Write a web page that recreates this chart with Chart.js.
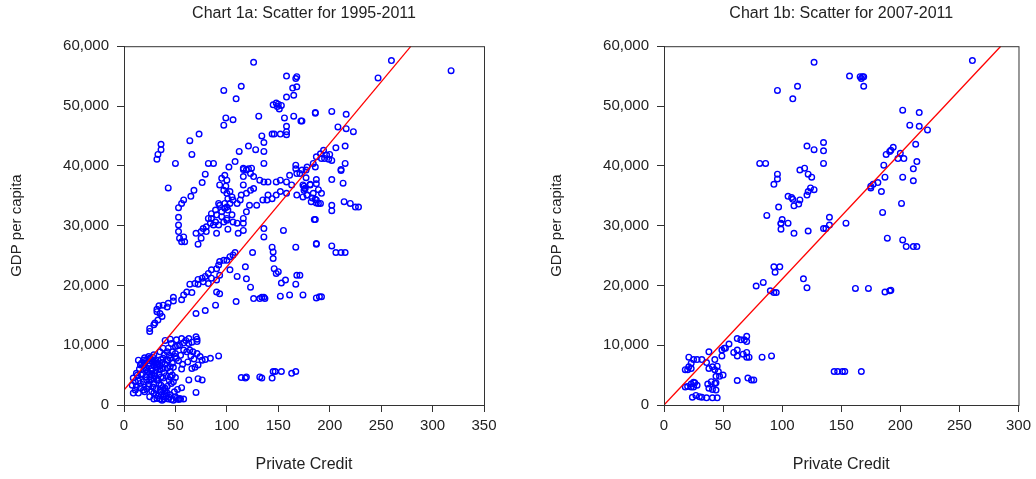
<!DOCTYPE html>
<html>
<head>
<meta charset="utf-8">
<script src="https://cdn.jsdelivr.net/npm/chart.js@4.4.0/dist/chart.umd.min.js"></script>
<style>
  body { margin: 0; background: #fff; }
  .box { position: absolute; top: 0; width: 518px; height: 479px; }
</style>
</head>
<body>
<div class="box" style="left:0"><canvas id="chart1a" width="518" height="479"></canvas></div>
<div class="box" style="left:518px"><canvas id="chart1b" width="518" height="479"></canvas></div>
<script>
// [private credit, GDP per capita]
const points1a = [
  // top group
  [126,57300],[97,52600],[114,53300],[109,51200],[158,55000],[167,54600],[168,54900],[164,53000],[168,53200],[158,51500],
  [165,51800],[145,50200],[148,50500],[150,50300],[153,50100],[151,49500],[149,49900],[186,48800],[131,48300],[99,48000],
  [97,46800],[106,47700],[156,48000],[165,48300],[172,47500],[158,46600],[158,45700],[158,45200],[73,45300],[64,44200],
  [66,41900],[36,43600],[36,42700],[33,41900],[32,41100],[50,40400],[82,40400],[87,40400],[102,39800],[108,40700],
  [121,43300],[112,42400],[128,42700],[134,45000],[136,43900],[136,42400],[144,45300],[146,45300],[152,45300],[136,40400],
  [116,39400],[121,39500],[167,40100],[167,39500],[187,41500],[184,40400],
  [260,57600],[318,55900],[247,54700],[186,48900],[202,49100],[216,48600],[173,47500],[208,46500],[216,46200],[223,45700],
  [206,43000],[215,43300],[191,42000],[194,42600],[197,41800],[200,41900],[199,41100],[202,40900],[195,41200],[192,41200],
  [215,40400],[186,39800],[211,39400],
  [171,38700],[177,39300],[177,38000],[187,37700],[202,37700],[211,39200],[213,37100],[181,36900],[175,36600],[176,36200],
  [175,35900],[178,35100],[189,36000],[192,35400],[183,34600],[186,34400],[187,33800],[189,33700],[202,33400],[202,32500],
  [214,34000],[220,33700],[225,33100],[228,33100],[185,31000],[187,27000],[202,26600],[206,25500],[211,25500],[215,25500],
  [171,21700],[187,17900],[190,18100],[192,18100],
  // upper band
  [43,36300],[79,38600],[76,37200],[68,35900],[65,34900],[58,34300],[56,33700],[53,33000],[53,31400],[53,30100],
  [53,29000],[54,27900],[56,27300],[59,27300],[58,28100],[72,26900],[75,27900],[70,28700],
  [93,36800],[95,37900],[98,38400],[100,37600],[99,36600],[97,35900],[100,35400],[103,35700],[105,34800],[101,34500],
  [106,34300],[103,33700],[98,33700],[93,33400],[92,33700],[89,32600],[85,32000],[90,31800],[95,31500],[100,31200],
  [105,31800],[110,33700],[113,34300],[114,35100],[119,35400],[123,35900],[126,36200],[116,36800],[116,38200],[119,39300],
  [123,38700],[126,38200],[116,39600],[124,39600],[132,37600],[136,37300],[140,37300],[148,37300],[152,37600],[158,37300],
  [161,38400],[168,38700],[173,39300],[178,39800],[163,36800],[174,36800],[176,36200],[181,36800],[187,37000],[184,35400],
  [178,35100],[187,34300],[191,33700],[182,34000],[174,34800],[168,35100],[158,35400],[152,35700],[148,35100],[140,35100],
  [139,34300],[144,34500],[135,34300],[129,33400],[122,33400],[119,32300],[116,31200],[116,30400],[116,29200],[111,28700],
  [110,30400],[106,30600],[100,30900],[97,30600],[92,30100],[87,30100],[84,30400],[80,29800],[77,29500],[75,29000],
  [80,29000],[90,28700],[101,29400],[82,31200],[85,31200],[89,30600],[95,32300],[98,32900],[101,32600],[100,33100],
  [136,29500],[136,28100],[155,29200],[144,26400],[145,25600],[145,24500],[167,26400],[125,25500],[118,23100],[119,21100],
  [146,22800],[148,22000],[150,22300],[157,20900],[168,21700],[167,20200],[186,31000],[187,26900],
  // lower band
  [108,25500],[106,25100],[103,24800],[100,24200],[97,24200],[93,24000],[92,23400],[90,22800],[85,22600],[82,22000],
  [79,21500],[76,21200],[72,21000],[69,20300],[64,20200],[85,21200],[93,21700],[103,22600],[110,21500],[123,19700],
  [72,20200],[77,20600],[82,20300],[90,20900],[153,20400],[90,18900],[93,18600],[61,18900],[66,18800],[58,18400],
  [56,17600],[48,18000],[48,17400],[43,17000],[42,16400],[38,16700],[34,16600],[32,16000],[32,15600],[35,15300],
  [37,14800],[33,14200],[30,13700],[25,12800],[25,12300],[29,13400],[79,15800],[70,15300],[89,16700],[109,17300],
  [126,17800],[132,17800],[134,18000],[136,18000],[137,17800],[152,18200],[161,18400],[174,18400],
  // low cluster
  [38,9500],[46,10300],[51,10900],[56,11100],[63,11100],[70,11400],[71,11000],[71,10600],[63,10300],[54,10000],
  [50,9800],[43,9500],[42,8900],[35,8900],[29,8400],[25,7800],[19,7500],[14,7500],[16,6700],[20,7000],
  [25,7000],[29,7200],[33,7500],[38,7800],[42,7500],[45,7800],[50,8100],[51,7800],[50,8600],[58,9200],
  [61,8900],[64,9200],[67,8900],[71,8600],[74,8100],[76,7500],[79,7600],[84,7800],[92,8200],[72,6700],
  [69,6300],[66,6100],[56,6000],[48,6300],[45,6400],[38,6100],[35,5900],[30,5300],[25,4700],[22,4200],
  [19,3900],[16,3600],[12,3100],[11,2500],[9,2000],[14,2000],[19,2500],[24,3100],[29,3600],[33,4200],
  [38,4500],[45,4700],[46,3600],[42,3100],[35,2500],[29,2000],[25,1400],[32,1100],[38,1400],[45,1700],
  [50,1400],[54,1100],[58,1000],[51,1100],[43,1000],[35,1000],[29,1000],[40,2800],[63,4200],[72,4400],
  [76,4200],[70,2100],[12,5300],[9,4500],[11,3900],[8,3300],[17,5000],[22,5900],[27,6100],[32,6400],
  [20,7900],[22,7600],[24,8100],[26,7700],[28,8000],[30,7400],[17,7000],[19,6600],[21,6200],[23,5600],
  [25,5300],[27,5700],[29,6700],[31,7000],[33,6900],[35,6500],[37,7100],[40,6800],[42,6200],[45,5600],
  [47,5000],[50,4600],[30,4800],[32,4200],[34,3600],[36,3300],[38,2900],[40,2400],[42,2000],[44,1300],
  [46,900],[48,800],[53,900],[55,1000],[27,2300],[31,1700],[33,1500],[37,800],[39,1000],[26,4200],
  [24,3500],[22,2700],[20,2200],[16,2900],[14,4000],[18,5200],[43,7500],[47,8900],[52,9900],[58,10400],
  [60,10800],[66,10500],[55,8300],[40,10800],[45,11000],[15,6000],[13,5000],
  [28,3000],[31,2600],[34,1900],[36,2200],[39,1800],[41,1500],[27,5000],[29,4400],[31,5800],[34,5200],
  [36,4700],[39,5400],[41,4900],[44,4100],[48,3900],[52,2600],[49,2200],[56,2900],[21,4700],[24,6500],
  [27,7400],[36,7600],[39,8400],[44,8300],[47,7000],[53,7400],[57,6800],[62,7200],[65,8200],[68,7700],
  [114,4600],[118,4500],[119,4700],[132,4700],[134,4500],[144,4500],[145,5600],[147,5600],[153,5600],[163,5300],[167,5600]
];

const points1b = [
  [127,57300],[96,52600],[113,53300],[109,51200],[135,43900],[121,43300],[127,42700],[135,42500],[135,40400],[81,40400],
  [86,40400],[96,38600],[96,37800],[93,36900],[115,39300],[119,39600],[122,38600],[125,38100],[121,35100],[122,35700],
  [124,36300],[127,36000],[105,34900],[108,34700],[109,34400],[114,33600],[110,33300],[115,34300],[97,33100],[87,31700],
  [100,31000],[99,30400],[105,30400],[99,29400],[122,29100],[135,29500],
  [99,30300],[110,28700],[137,29500],[140,30100],[93,23100],[98,23100],[94,22200],[118,21100],[121,19600],[78,19900],
  [84,20500],[90,19100],[93,18800],[95,18800],
  [62,11100],[65,10900],[68,10900],[70,11500],[70,10600],[55,10200],[51,9500],[49,9200],[52,9500],[38,8900],
  [59,8800],[62,9200],[67,8500],[70,8800],[62,8200],[70,8000],[72,8000],[83,8000],[91,8200],[49,8200],
  [43,7600],[36,7100],[21,8000],[25,7600],[28,7600],[32,7600],[23,7000],[21,6400],[23,6100],[18,5900],
  [20,5900],[38,6100],[41,6400],[45,6500],[43,5900],[46,5600],[50,5000],[44,4800],[47,4800],[40,3900],
  [43,3600],[37,3500],[44,3700],[25,3800],[23,3500],[26,3700],[28,3300],[20,3100],[23,3000],[25,3000],
  [18,3000],[38,2800],[41,2600],[44,2500],[24,1300],[27,1600],[30,1400],[32,1300],[36,1200],[41,1200],
  [45,1200],[62,4100],[71,4500],[74,4200],[76,4200],
  [261,57600],[157,55000],[166,54900],[168,54900],[169,54900],[167,54600],[169,53300],[202,49300],[216,48900],[208,46800],
  [216,46600],[223,46000],[213,43600],[194,43100],[191,42400],[192,42600],[188,41900],[200,42100],[198,41200],[203,41200],
  [186,40100],[214,40700],[211,39500],[175,36600],[175,36300],[177,36900],[181,37200],[187,38100],[202,38100],[211,37500],
  [184,35700],[201,33700],[185,32200],[154,30400],[140,31400],[189,27900],[202,27600],[205,26500],[211,26500],[214,26500],
  [162,19500],[173,19500],[187,18900],[191,19100],[192,19200],
  [144,5600],[147,5600],[151,5600],[153,5600],[167,5600]
];

// fitted lines (end points) and axis limits
const fitX1a = [0, 279];
const fitY1a = [2500, 60000];
const fitX1b = [0, 285];
const fitY1b = [0, 60000];
const xMax1a = 350;
const xMax1b = 300;
const yMax = 60000;

const ink = '#222';
const fontName = '"Liberation Sans", Arial, sans-serif';

const boxPlugin = {
  id: 'box',
  afterDraw(chart) {
    const a = chart.chartArea;
    const ctx = chart.ctx;
    ctx.save();
    ctx.strokeStyle = '#333';
    ctx.lineWidth = 1;
    ctx.strokeRect(a.left + 0.5, a.top + 0.5, a.right - a.left, a.bottom - a.top);
    ctx.restore();
  }
};

function makeChart(id, title, points, fitX, fitY, xMax, yWidth, yTitlePad, rightPad) {
  new Chart(document.getElementById(id), {
    type: 'scatter',
    data: {
      datasets: [{
        type: 'line',
        data: fitX.map((x, i) => ({x: x, y: fitY[i]})),
        showLine: true,
        borderColor: '#ff0000',
        borderWidth: 1.3,
        pointRadius: 0,
        order: 0
      }, {
        data: points.map(p => ({x: p[0], y: p[1]})),
        pointRadius: 2.8,
        pointBorderWidth: 1.4,
        pointBorderColor: '#0000ff',
        pointBackgroundColor: 'rgba(0,0,0,0)',
        order: 1
      }]
    },
    options: {
      responsive: false,
      animation: false,
      layout: { padding: { left: 0, right: rightPad, top: 0, bottom: 0 } },
      plugins: {
        legend: { display: false },
        tooltip: { enabled: false },
        title: {
          display: true,
          text: title,
          fullSize: false,
          color: ink,
          font: { family: fontName, size: 16, weight: 'normal' },
          padding: { top: 4, bottom: 23 }
        }
      },
      scales: {
        x: {
          min: 0, max: xMax,
          ticks: { stepSize: 50, color: ink, padding: 5, font: { family: fontName, size: 15 } },
          grid: { drawOnChartArea: false, tickLength: 7, color: '#333' },
          border: { color: '#333' },
          title: { display: true, text: 'Private Credit', color: ink,
                   font: { family: fontName, size: 16 }, padding: { top: 4, bottom: 5 } },
          afterFit: s => { s.height = 74; }
        },
        y: {
          min: 0, max: yMax,
          ticks: { stepSize: 10000, color: ink, padding: 8, font: { family: fontName, size: 15 },
                   callback: v => v.toLocaleString('en-US') },
          grid: { drawOnChartArea: false, tickLength: 7, color: '#333' },
          border: { color: '#333' },
          title: { display: true, text: 'GDP per capita', color: ink,
                   font: { family: fontName, size: 15 }, padding: { top: yTitlePad, bottom: 0 } },
          afterFit: s => { s.width = yWidth; }
        }
      }
    },
    plugins: [boxPlugin]
  });
}

makeChart('chart1a', 'Chart 1a: Scatter for 1995-2011', points1a, fitX1a, fitY1a, xMax1a, 124, 8, 34);
makeChart('chart1b', 'Chart 1b: Scatter for 2007-2011', points1b, fitX1b, fitY1b, xMax1b, 146, 30, 13);
</script>
</body>
</html>
